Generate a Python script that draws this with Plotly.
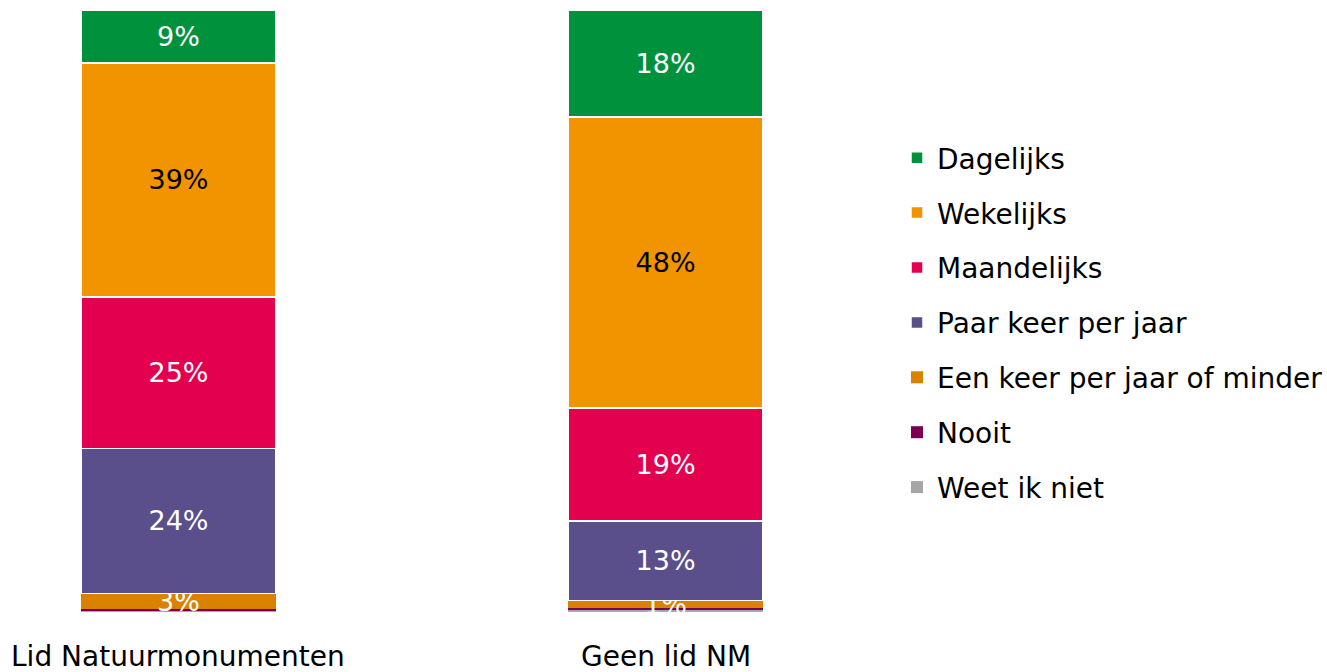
import plotly.graph_objects as go

categories = ["Lid Natuurmonumenten", "Geen lid NM"]
series_names = ["Weet ik niet", "Nooit", "Een keer per jaar of minder",
                "Paar keer per jaar", "Maandelijks", "Wekelijks", "Dagelijks"]
weet_ik_niet = [0.3, 0.4]
nooit = [0.2, 0.3]
een_keer = [2.6, 1.2]
paar_keer = [24.1, 13.2]
maandelijks = [25.2, 18.8]
wekelijks = [38.9, 48.4]
dagelijks = [8.8, 17.8]
values = [weet_ik_niet, nooit, een_keer, paar_keer, maandelijks, wekelijks, dagelijks]
labels = [["", ""], ["", ""], ["3%", "1%"], ["24%", "13%"], ["25%", "19%"],
          ["39%", "48%"], ["9%", "18%"]]

colors = ["#A6A6A6", "#7B0051", "#D98200", "#5A4F8B", "#E2004F", "#F29400", "#00913D"]
text_colors = ["white", "white", "white", "white", "white", "black", "white"]
line_w = [0, 0, 0, 1.5, 1.5, 1.5, 1.5]

FONT = "DejaVu Sans"
FS_BAR = 27
FS_LEG = 28
FS_CAT = 28

fig = go.Figure()
n = len(series_names)
for i, (name, vals, lab, col, tc, lw) in enumerate(
        zip(series_names, values, labels, colors, text_colors, line_w)):
    fig.add_trace(go.Bar(
        x=categories, y=vals, name=name, text=lab,
        textposition="inside", insidetextanchor="middle", textangle=0,
        textfont=dict(family=FONT, size=FS_BAR, color=tc),
        marker=dict(color=col, line=dict(color="white", width=lw)),
        legendgroup=name, legendrank=n - i, cliponaxis=True,
        hoverinfo="skip",
    ))

fig.update_layout(
    barmode="stack",
    bargap=0.6,
    width=1327, height=672,
    margin=dict(l=8, r=491, t=10, b=60),
    plot_bgcolor="white", paper_bgcolor="white",
    font=dict(family=FONT, size=FS_BAR, color="black"),
    uniformtext=dict(minsize=FS_BAR, mode="show"),
    showlegend=True,
    legend=dict(
        traceorder="grouped", tracegroupgap=15.5,
        xref="container", yref="container",
        x=897 / 1327, xanchor="left",
        y=1 - 133 / 672, yanchor="top",
        font=dict(family=FONT, size=FS_LEG, color="black"),
        itemwidth=30, maxheight=640,
    ),
    xaxis=dict(range=[-0.35, 1.35], showticklabels=False, showline=False,
               showgrid=False, zeroline=False, fixedrange=True),
    yaxis=dict(range=[0, 100.1], visible=False, showgrid=False, zeroline=False),
)

for cat in categories:
    fig.add_annotation(x=cat, xref="x", y=0, yref="paper", yanchor="top",
                       xanchor="center", yshift=-26, text=cat,
                       showarrow=False, font=dict(family=FONT, size=FS_CAT, color="black"))

fig.write_html("out.html", config={"displayModeBar": False},
               post_script="document.body.style.margin='0';")
